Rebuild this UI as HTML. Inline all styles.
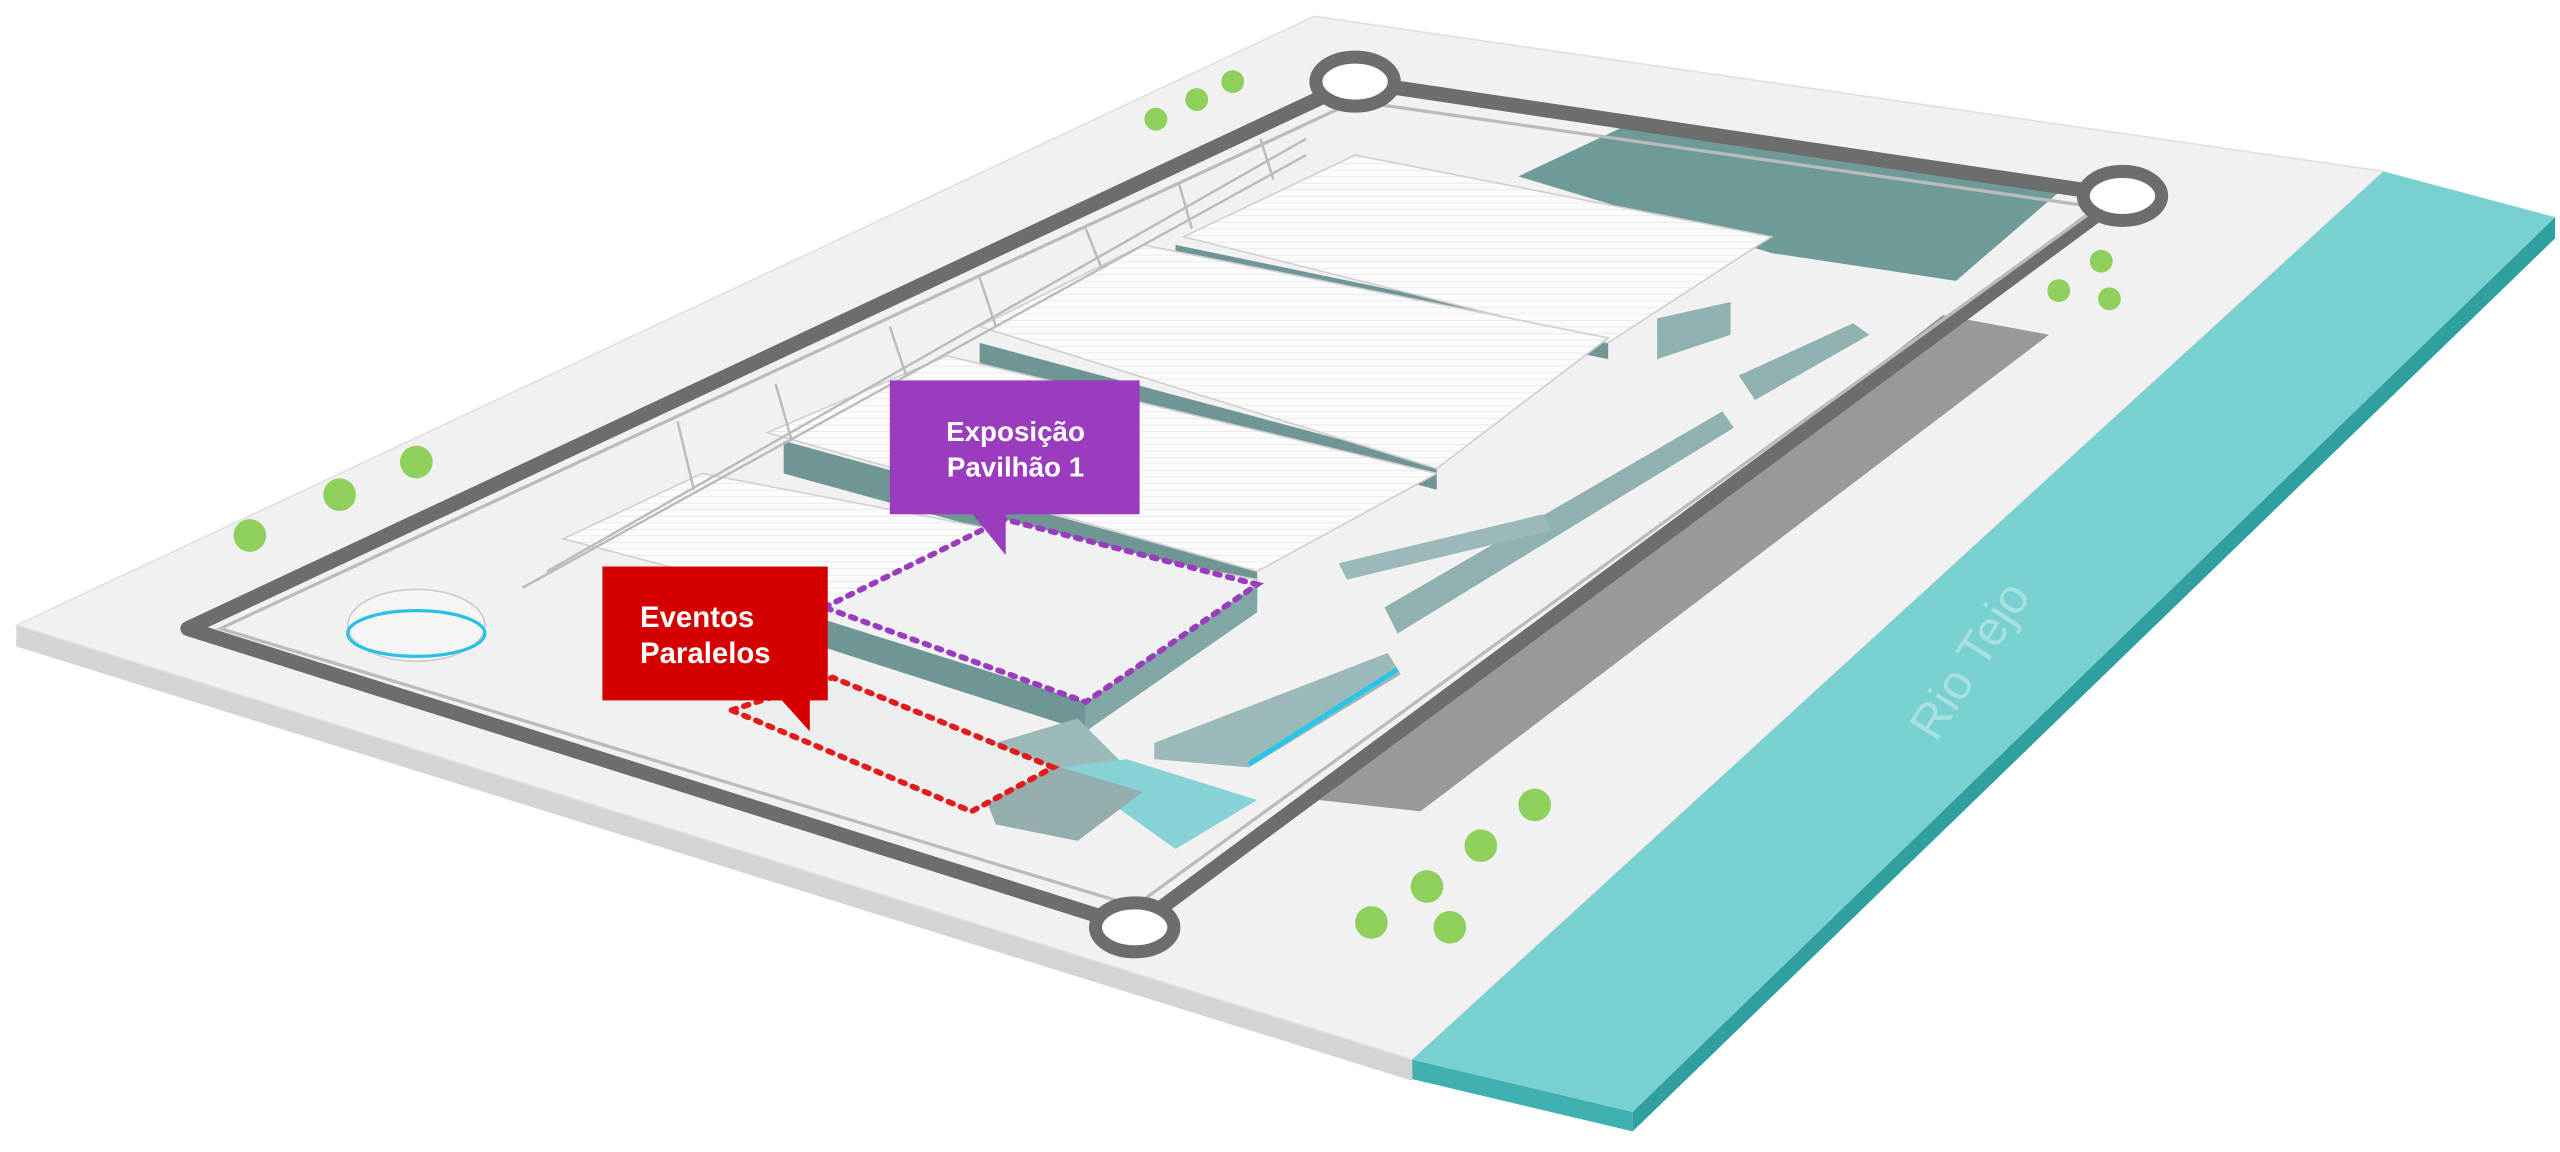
<!DOCTYPE html>
<html><head><meta charset="utf-8"><style>html,body{margin:0;padding:0;background:#fff}svg{display:block}</style></head>
<body>
<svg width="2560" height="1152" viewBox="0 0 1568 705.6" preserveAspectRatio="none" xmlns="http://www.w3.org/2000/svg">
<defs>
<pattern id="grid" width="5" height="4" patternUnits="userSpaceOnUse"><rect width="5" height="4" fill="#fcfcfc"/><path d="M0 0H5" stroke="#e2e2e2" stroke-width="0.8"/></pattern>
</defs>
<rect width="1568" height="706" fill="#fff"/>
<!-- platform -->
<polygon points="10,383 10,396 865,662 865,649" fill="#d4d4d4"/>
<polygon points="10,383 805,10 1460,105 865,649" fill="#f1f1f1" stroke="#e0e0e0"/>
<!-- river -->
<polygon points="865,649 1000,681 1000,693 865,661" fill="#3fb0b0"/>
<polygon points="1000,681 1565,133 1565,146 1000,693" fill="#2f9f9f"/>
<polygon points="1460,105 1565,133 1000,681 865,649" fill="#78d0d0"/>
<text x="0" y="0" transform="translate(1215,410) rotate(-57)" font-family="Liberation Sans, sans-serif" font-size="30" fill="#a8e0e0" text-anchor="middle">Rio Tejo</text>
<!-- dark block -->
<polygon points="930,108 1000,75 1262,117 1198,172 1085,155" fill="#6e9a98"/>
<!-- runway -->
<polygon points="1190,193 1255,205 870,497 808,490" fill="#999"/>
<!-- road loop -->
<polygon points="830,50 1300,120 695,568 115,385" fill="none" stroke="#6d6d6d" stroke-width="9" stroke-linejoin="round"/>
<polygon points="830,62 1285,127 695,555 135,385" fill="none" stroke="#bbb" stroke-width="2"/>
<g fill="#fff" stroke="#6d6d6d" stroke-width="8">
<ellipse cx="830" cy="50" rx="24" ry="15"/><ellipse cx="1300" cy="120" rx="24" ry="15"/><ellipse cx="695" cy="568" rx="24" ry="15"/>
</g>
<!-- long buildings -->
<polygon points="1065,230 1135,198 1145,205 1075,245" fill="#8fb1b0"/>
<polygon points="848,372 1055,252 1062,262 856,388" fill="#8fb1b0"/>
<polygon points="820,345 945,315 950,325 825,355" fill="#9ab9b8"/>
<polygon points="707,455 850,400 858,413 765,470 707,465" fill="#9ab9b8"/>
<line x1="765" y1="468" x2="856" y2="410" stroke="#27c5e8" stroke-width="3"/>
<polygon points="1015,195 1060,185 1060,205 1015,220" fill="#8fb1b0"/>
<!-- pavilions side walls -->
<polygon points="600,210 880,285 880,300 600,225" fill="#6f9695"/>
<polygon points="720,150 985,205 985,220 720,165" fill="#6f9695"/>
<polygon points="480,270 770,350 770,370 480,290" fill="#6f9695"/>
<polygon points="500,378 665,430 665,448 500,395" fill="#6f9695"/>
<polygon points="665,430 770,358 770,375 665,448" fill="#80a6a5"/>
<!-- roofs -->
<polygon points="725,145 830,95 1085,145 985,210" fill="url(#grid)" stroke="#d0d0d0"/>
<polygon points="600,200 700,150 985,207 880,287" fill="url(#grid)" stroke="#d0d0d0"/>
<polygon points="470,265 580,218 880,290 770,350" fill="url(#grid)" stroke="#d0d0d0"/>
<polygon points="345,330 430,290 770,355 720,380 505,372" fill="url(#grid)" stroke="#d0d0d0"/>
<polygon points="505,372 615,318 770,358 665,430" fill="#f0f1f1"/>
<!-- lower area -->
<polygon points="610,455 660,440 700,480 640,500" fill="#9ab9b8"/>
<polygon points="650,470 690,465 770,490 720,520" fill="#86d2d6"/>
<polygon points="600,480 650,470 700,485 660,515 610,505" fill="#94aead"/>
<polygon points="448,435 510,415 645,470 595,497" fill="#eceeee"/>
<!-- left dome -->
<ellipse cx="255" cy="383" rx="42" ry="22" fill="#f5f5f5" stroke="#ccc"/>
<ellipse cx="255" cy="388" rx="42" ry="14" fill="none" stroke="#29c1e6" stroke-width="2"/>
<!-- masts -->
<g stroke="#bbb" stroke-width="1.5" fill="none">
<polyline points="335,350 800,85"/><polyline points="320,360 800,95"/>
<line x1="415" y1="258" x2="425" y2="300"/><line x1="475" y1="235" x2="485" y2="270"/><line x1="545" y1="200" x2="555" y2="230"/>
<line x1="600" y1="170" x2="610" y2="200"/><line x1="665" y1="140" x2="675" y2="165"/><line x1="722" y1="112" x2="730" y2="140"/><line x1="772" y1="85" x2="780" y2="110"/>
</g>
<!-- dotted outlines -->
<polygon points="505,372 615,318 770,358 665,430" fill="none" stroke="#9b3bbd" stroke-width="3.5" stroke-dasharray="3,5" stroke-linecap="round"/>
<polygon points="448,435 510,415 645,470 595,497" fill="none" stroke="#e21c1c" stroke-width="3.5" stroke-dasharray="3,5" stroke-linecap="round"/>
<!-- trees -->
<g fill="#8fcf5c">
<circle cx="708" cy="73" r="7"/><circle cx="733" cy="61" r="7"/><circle cx="755" cy="50" r="7"/>
<circle cx="153" cy="328" r="10"/><circle cx="208" cy="303" r="10"/><circle cx="255" cy="283" r="10"/>
<circle cx="1261" cy="178" r="7"/><circle cx="1287" cy="160" r="7"/><circle cx="1292" cy="183" r="7"/>
<circle cx="940" cy="493" r="10"/><circle cx="907" cy="518" r="10"/><circle cx="874" cy="543" r="10"/><circle cx="840" cy="565" r="10"/><circle cx="888" cy="568" r="10"/>
</g>
<!-- labels -->
<rect x="545" y="233" width="153" height="82" fill="#9b3bbd"/>
<polygon points="595,314 616,314 616,340" fill="#9b3bbd"/>
<text x="622" y="270" font-family="Liberation Sans, sans-serif" font-weight="bold" font-size="17" fill="#fff" text-anchor="middle">Exposição</text>
<text x="622" y="292" font-family="Liberation Sans, sans-serif" font-weight="bold" font-size="17" fill="#fff" text-anchor="middle">Pavilhão 1</text>
<rect x="369" y="347" width="138" height="82" fill="#d40000"/>
<polygon points="478,428 496,428 496,448" fill="#d40000"/>
<text x="392" y="384" font-family="Liberation Sans, sans-serif" font-weight="bold" font-size="18" fill="#fff">Eventos</text>
<text x="392" y="406" font-family="Liberation Sans, sans-serif" font-weight="bold" font-size="18" fill="#fff">Paralelos</text>
</svg>
</body></html>
